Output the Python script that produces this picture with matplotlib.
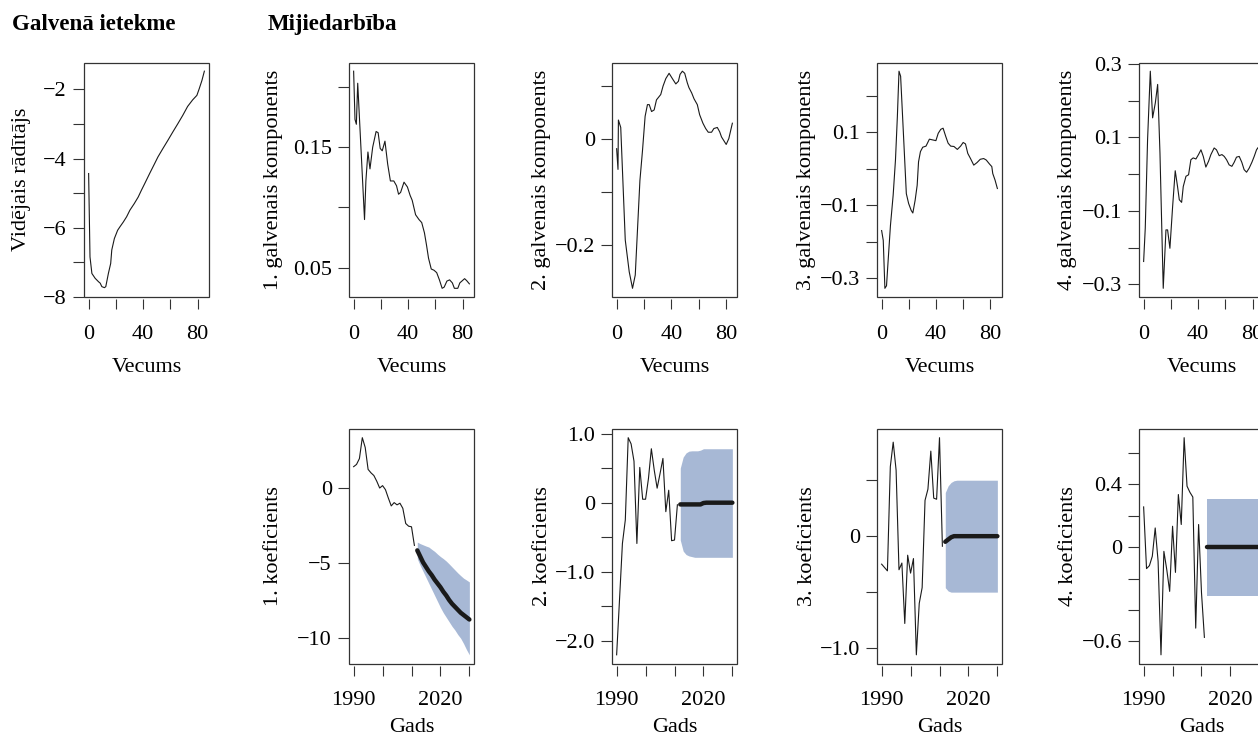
import numpy as np
import matplotlib
matplotlib.use("Agg")
import matplotlib.pyplot as plt
from matplotlib.patches import Rectangle

plt.rcParams['font.family'] = ['Liberation Serif', 'DejaVu Serif']
plt.rcParams['font.size'] = 16

# --- age profiles -------------------------------------------------------
ages_main = [0, 1, 2.4, 4.8, 7.3, 8.5, 9.7, 11.6, 12.6, 14.5, 16.2, 17, 18.9, 21.3, 23,
             25.5, 27.9, 30.3, 33.5, 36.4, 38.8, 41.2, 44.8, 48.5, 50.9, 54.5, 58.2,
             61.8, 65.5, 69.1, 72.7, 76.4, 79.5, 81.2, 83.2, 85]
main_effect = [-4.43, -6.84, -7.32, -7.46, -7.56, -7.60, -7.70, -7.73, -7.70, -7.32, -7.03,
               -6.64, -6.31, -6.07, -5.97, -5.83, -5.68, -5.49, -5.30, -5.11, -4.91, -4.72,
               -4.43, -4.14, -3.95, -3.71, -3.47, -3.23, -2.99, -2.75, -2.49, -2.30, -2.17,
               -1.98, -1.74, -1.47]

ages_pc1 = [0, 1, 2, 3, 8, 9, 10.5, 12, 14, 16.5, 18, 19.5, 21, 23, 25, 27, 29.5, 31.5, 33,
            34.5, 37, 39.5, 41.5, 43, 45.5, 48, 50, 52, 53.5, 55, 57, 59, 61, 63, 65, 66.5,
            68.5, 70.5, 72.5, 74, 76.5, 78, 81.5, 83, 85]
pc1 = [0.213, 0.173, 0.169, 0.203, 0.090, 0.122, 0.146, 0.132, 0.150, 0.163, 0.162, 0.149,
       0.147, 0.155, 0.136, 0.122, 0.122, 0.118, 0.111, 0.1125, 0.121, 0.117, 0.110, 0.106,
       0.094, 0.090, 0.0875, 0.079, 0.069, 0.058, 0.049, 0.048, 0.046, 0.040, 0.033, 0.034,
       0.039, 0.040, 0.0375, 0.033, 0.033, 0.0375, 0.041, 0.0394, 0.0367]

ages_pc2 = [0, 1, 1.3, 3, 6.3, 9.2, 11.6, 13.6, 15.3, 17, 18.9, 20.8, 22.5, 23.8, 25.5, 27.4,
            29.1, 32.2, 33.9, 35.9, 38.3, 40.7, 43.2, 45.1, 46.3, 48, 49.7, 51.6, 52.8, 54.8,
            56.5, 58.9, 60.6, 63, 65, 66.9, 69.3, 71, 73.5, 75.2, 76.6, 78.3, 80, 81.9, 84.5]
pc2 = [-0.018, -0.057, 0.036, 0.022, -0.190, -0.250, -0.281, -0.256, -0.167, -0.078, -0.021,
       0.043, 0.065, 0.065, 0.052, 0.055, 0.074, 0.084, 0.100, 0.114, 0.124, 0.114, 0.104,
       0.109, 0.122, 0.128, 0.124, 0.106, 0.097, 0.087, 0.076, 0.065, 0.046, 0.030, 0.020,
       0.013, 0.013, 0.020, 0.022, 0.014, 0.004, -0.003, -0.010, 0.001, 0.030]

ages_pc3 = [0, 1.2, 2.4, 3.6, 4.8, 6.5, 8.5, 10.2, 11.6, 12.8, 14, 15.8, 18.2, 19.9, 21.8, 23,
            24.7, 26.2, 27.2, 28.6, 30.3, 32.7, 35.2, 37.6, 40, 41.7, 43.6, 45.3, 47.3, 49,
            50.9, 53.3, 55.8, 58.2, 60.1, 61.8, 63.5, 65.5, 67.9, 70.3, 72.7, 75.2, 77.1,
            79.5, 81.2, 81.9, 83.6, 85.3]
pc3 = [-0.169, -0.196, -0.327, -0.320, -0.251, -0.155, -0.072, 0.024, 0.143, 0.267, 0.253,
       0.116, -0.068, -0.095, -0.114, -0.121, -0.086, -0.045, 0.019, 0.047, 0.059, 0.062,
       0.081, 0.079, 0.077, 0.097, 0.108, 0.111, 0.088, 0.070, 0.062, 0.061, 0.053, 0.062,
       0.072, 0.068, 0.042, 0.028, 0.010, 0.017, 0.026, 0.028, 0.024, 0.013, 0.006, -0.013,
       -0.031, -0.054]

ages_pc4 = [0, 1.2, 2.9, 4.9, 6.6, 8.6, 10.3, 12, 14.4, 16.4, 17.6, 19.3, 21.3, 23.2, 24.9,
            26.2, 27.9, 29.1, 31.1, 33, 34.7, 36.4, 38.4, 40.3, 42.1, 43.8, 45.7, 47.7, 49.4,
            51.8, 53.5, 55.5, 57.5, 59.2, 60.9, 62.8, 64.8, 66.5, 68.2, 70.2, 72.1, 73.8,
            75.6, 77.5, 79.5, 81.2, 82.9, 84, 85]
pc4 = [-0.238, -0.147, 0.094, 0.280, 0.153, 0.194, 0.244, 0.057, -0.311, -0.152, -0.152,
       -0.202, -0.088, 0.009, -0.034, -0.070, -0.077, -0.034, -0.006, -0.002, 0.039, 0.044,
       0.041, 0.053, 0.066, 0.048, 0.019, 0.035, 0.053, 0.071, 0.066, 0.050, 0.053, 0.048,
       0.039, 0.025, 0.021, 0.032, 0.046, 0.048, 0.032, 0.012, 0.005, 0.016, 0.032, 0.048,
       0.066, 0.072, 0.060]

# --- time indices: fitted 1990-2011, forecast 2012-2030 -------------------
years_hist = np.arange(1990, 2012)
years_fc = np.arange(2012, 2031)

k1_hist = [1.42, 1.57, 1.96, 3.35, 2.70, 1.24, 1.01, 0.83, 0.45, 0.00, 0.16, -0.11, -0.67,
           -1.19, -0.97, -1.12, -1.01, -1.35, -2.36, -2.54, -2.58, -3.82]
k1_fc = [-4.15, -4.55, -4.95, -5.25, -5.55, -5.80, -6.10, -6.35, -6.60, -6.90, -7.15, -7.45,
         -7.70, -7.90, -8.10, -8.30, -8.45, -8.60, -8.75]
k1_hi = [-3.60, -3.70, -3.78, -3.86, -3.93, -4.08, -4.22, -4.40, -4.56, -4.70, -4.86, -5.05,
         -5.25, -5.45, -5.65, -5.83, -6.00, -6.12, -6.25]
k1_lo = [-4.70, -5.15, -5.55, -5.95, -6.35, -6.75, -7.15, -7.55, -7.95, -8.30, -8.60, -8.90,
         -9.20, -9.45, -9.75, -10.00, -10.35, -10.75, -11.10]

k2_hist = [-2.20, -1.40, -0.59, -0.25, 0.94, 0.85, 0.60, -0.59, 0.51, 0.05, 0.05, 0.35, 0.78,
           0.47, 0.21, 0.42, 0.64, -0.13, 0.18, -0.55, -0.54, -0.03]
k2_fc = [-0.025, -0.025, -0.025, -0.025, -0.025, -0.025, -0.025, -0.025, -0.005, 0.0, 0.0,
         0.0, 0.0, 0.0, 0.0, 0.0, 0.0, 0.0, 0.0]
k2_hi = [0.50, 0.66, 0.72, 0.745, 0.75, 0.75, 0.75, 0.76, 0.78, 0.78, 0.78, 0.78, 0.78, 0.78,
         0.78, 0.78, 0.78, 0.78, 0.78]
k2_lo = [-0.54, -0.70, -0.75, -0.77, -0.78, -0.79, -0.79, -0.79, -0.79, -0.79, -0.79, -0.79,
         -0.79, -0.79, -0.79, -0.79, -0.79, -0.79, -0.79]

k3_hist = [-0.25, -0.28, -0.31, 0.62, 0.84, 0.59, -0.30, -0.24, -0.78, -0.17, -0.33, -0.20,
           -1.06, -0.60, -0.46, 0.32, 0.42, 0.76, 0.34, 0.33, 0.88, -0.09]
k3_fc = [-0.05, -0.03, -0.01, 0.0, 0.0, 0.0, 0.0, 0.0, 0.0, 0.0, 0.0, 0.0, 0.0, 0.0, 0.0,
         0.0, 0.0, 0.0, 0.0]
k3_hi = [0.39, 0.45, 0.48, 0.495, 0.50, 0.50, 0.50, 0.50, 0.50, 0.50, 0.50, 0.50, 0.50, 0.50,
         0.50, 0.50, 0.50, 0.50, 0.50]
k3_lo = [-0.46, -0.49, -0.50, -0.50, -0.50, -0.50, -0.50, -0.50, -0.50, -0.50, -0.50, -0.50,
         -0.50, -0.50, -0.50, -0.50, -0.50, -0.50, -0.50]

k4_hist = [0.257, -0.136, -0.117, -0.057, 0.123, -0.089, -0.685, -0.026, -0.143, -0.281,
           0.134, -0.160, 0.336, 0.145, 0.698, 0.389, 0.350, 0.320, -0.515, 0.145, -0.290,
           -0.574]
k4_fc = [0.0] * 19
k4_hi = [0.31] * 19
k4_lo = [-0.31] * 19

# --- axis ticks and labels ----------------------------------------------
age_ticks = [0, 20, 40, 60, 80]
age_labels = ['0', '', '40', '', '80']
year_ticks = [1990, 2000, 2010, 2020, 2030]
year_labels = ['1990', '', '', '2020', '']

M = '\u2212'
top_panels = [
    (ages_main, main_effect, 'Vidējais rādītājs',
     [-8, -7, -6, -5, -4, -3, -2], [M + '8', '', M + '6', '', M + '4', '', M + '2'], -62),
    (ages_pc1, pc1, '1. galvenais komponents',
     [0.05, 0.10, 0.15, 0.20], ['0.05', '', '0.15', ''], -75),
    (ages_pc2, pc2, '2. galvenais komponents',
     [-0.2, -0.1, 0.0, 0.1], [M + '0.2', '', '0', ''], -70),
    (ages_pc3, pc3, '3. galvenais komponents',
     [-0.3, -0.2, -0.1, 0.0, 0.1, 0.2], [M + '0.3', '', M + '0.1', '', '0.1', ''], -71),
    (ages_pc4, pc4, '4. galvenais komponents',
     [-0.3, -0.2, -0.1, 0.0, 0.1, 0.2, 0.3],
     [M + '0.3', '', M + '0.1', '', '0.1', '', '0.3'], -72),
]
bottom_panels = [
    (k1_hist, k1_fc, k1_lo, k1_hi, '1. koeficients',
     [-10, -5, 0], [M + '10', M + '5', '0'], -75),
    (k2_hist, k2_fc, k2_lo, k2_hi, '2. koeficients',
     [-2.0, -1.5, -1.0, -0.5, 0.0, 0.5, 1.0], [M + '2.0', '', M + '1.0', '', '0', '', '1.0'], -69),
    (k3_hist, k3_fc, k3_lo, k3_hi, '3. koeficients',
     [-1.0, -0.5, 0.0, 0.5], [M + '1.0', '', '0', ''], -70),
    (k4_hist, k4_fc, k4_lo, k4_hi, '4. koeficients',
     [-0.6, -0.4, -0.2, 0.0, 0.2, 0.4, 0.6], [M + '0.6', '', '', '0', '', '0.4', ''], -71),
]

W, H = 1258, 738
BOX_W, BOX_H = 125, 234.5
col_left = [84, 349, 612, 877, 1139]
row_top = [62.5, 429]
band_col = '#a7b8d5'
ink = '#1a1a1a'

fig = plt.figure(figsize=(W / 100, H / 100), dpi=100)


def add_box(left, top):
    return fig.add_axes([left / W, 1 - (top + BOX_H) / H, BOX_W / W, BOX_H / H])


def r_range(*arrays):
    # default R axis range: data span plus 4% each side
    v = np.concatenate([np.ravel(np.asarray(a, dtype=float)) for a in arrays])
    lo, hi = v.min(), v.max()
    pad = 0.04 * (hi - lo)
    return lo - pad, hi + pad


def style(ax, xt, xl, yt, yl, xlabel, xlab_drop, ylabel, ylab_off):
    for s in ax.spines.values():
        s.set_visible(False)
    ax.spines['bottom'].set_position(('outward', 1.6))
    ax.add_patch(Rectangle((0, 0), 1, 1, transform=ax.transAxes, fill=False,
                           lw=0.9, edgecolor='#333333', clip_on=False, zorder=5))
    ax.set_xticks(xt)
    ax.set_xticklabels(xl)
    ax.set_yticks(yt)
    ax.set_yticklabels(yl)
    ax.tick_params(axis='x', length=7.5, width=0.8, color='#333333', pad=11)
    ax.tick_params(axis='y', length=7.8, width=0.8, color='#333333', pad=4.5)
    ax.text(0.5, -xlab_drop / BOX_H, xlabel, transform=ax.transAxes,
            ha='center', va='baseline')
    ax.text(ylab_off / BOX_W, 0.5, ylabel, transform=ax.transAxes, rotation=90,
            ha='center', va='center')


for left, (ages, vals, ylab, yt, yl, off) in zip(col_left, top_panels):
    ax = add_box(left, row_top[0])
    ax.plot(ages, vals, color=ink, lw=0.8)
    ax.set_xlim(r_range(ages))
    ax.set_ylim(r_range(vals))
    style(ax, age_ticks, age_labels, yt, yl, 'Vecums', 75, ylab, off)

for left, (hist, fc, lo, hi, ylab, yt, yl, off) in zip(col_left[1:], bottom_panels):
    ax = add_box(left, row_top[1])
    ax.fill_between(years_fc, lo, hi, color=band_col, lw=0, zorder=1)
    ax.plot(years_hist, hist, color=ink, lw=0.8, zorder=2)
    ax.plot(years_fc, fc, color=ink, lw=3.2, solid_capstyle='round', zorder=3)
    ax.set_xlim(r_range(years_hist, years_fc))
    ax.set_ylim(r_range(hist, lo, hi))
    style(ax, year_ticks, year_labels, yt, yl, 'Gads', 68, ylab, off)

fig.text(12 / W, 1 - 30 / H, 'Galvenā ietekme', fontsize=16.5, fontweight='bold',
         ha='left', va='baseline')
fig.text(268 / W, 1 - 30 / H, 'Mijiedarbība', fontsize=16.5, fontweight='bold',
         ha='left', va='baseline')

fig.savefig('out.png', dpi=100)
